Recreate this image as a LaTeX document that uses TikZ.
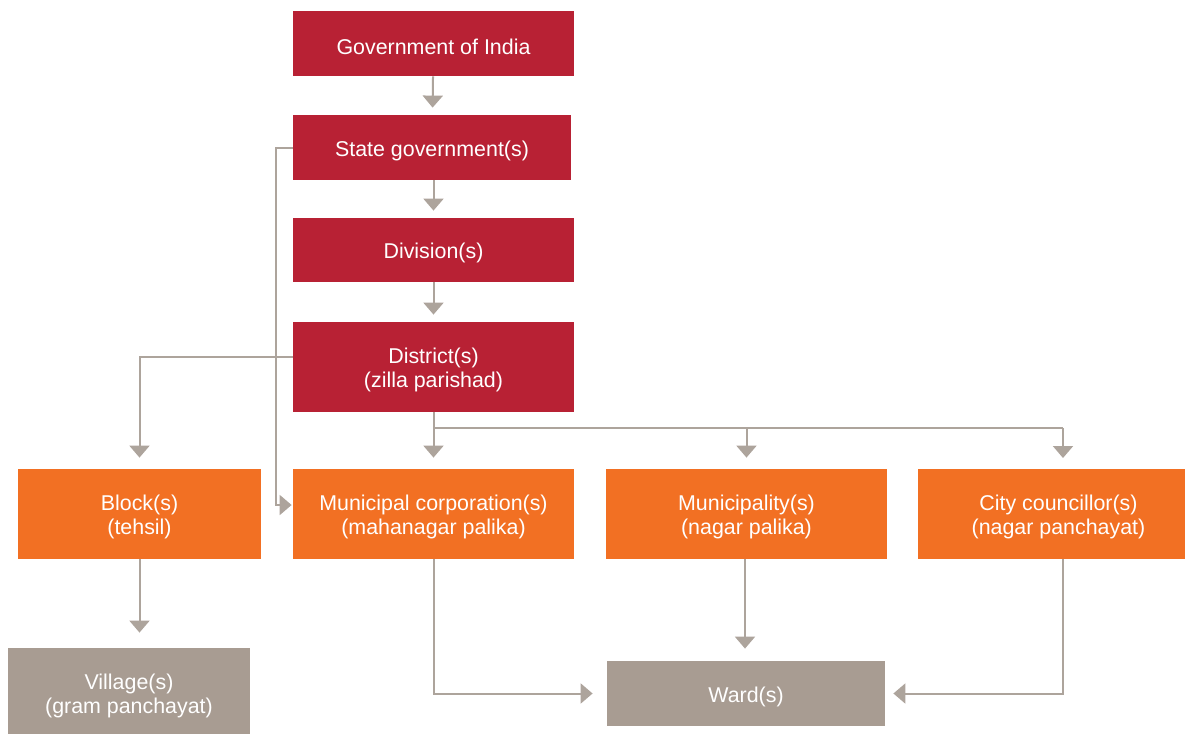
\documentclass[tikz,border=0pt]{standalone}
\usepackage{fontspec}
\setmainfont{Liberation Sans}
\usetikzlibrary{arrows.meta}
\definecolor{cred}{HTML}{B82134}
\definecolor{corange}{HTML}{F27023}
\definecolor{cgray}{HTML}{A89C92}
\definecolor{cline}{HTML}{ADA49C}
\begin{document}
\begin{tikzpicture}[x=0.5pt,y=-0.5pt,
  box/.style={rectangle, inner sep=0pt, text=white, align=center,
    font=\fontsize{10.7}{12}\selectfont},
  txt/.style={inner sep=0pt, text=white, align=center, yshift=-1.5pt,
    font=\fontsize{10.7}{12}\selectfont},
  redbox/.style={box, fill=cred},
  orangebox/.style={box, fill=corange},
  graybox/.style={box, fill=cgray},
  conn/.style={draw=cline, line width=1pt, -{Triangle[width=10pt,length=6pt]}}]
\clip (0,0) rectangle (1185,734);
\fill[white] (0,0) rectangle (1185,734);
% red column
\node[redbox, minimum width=140.5pt, minimum height=32.5pt, label={[txt]center:Government of India}] (gov) at (433.5,43.5) {};
\node[redbox, minimum width=139pt, minimum height=32.5pt, label={[txt]center:State government(s)}] (state) at (432,147.5) {};
\node[redbox, minimum width=140.5pt, minimum height=32pt, label={[txt]center:Division(s)}] (div) at (433.5,250) {};
\node[redbox, minimum width=140.5pt, minimum height=45pt, label={[txt]center:District(s)\\(zilla parishad)}] (dist) at (433.5,367) {};
% orange row
\node[orangebox, minimum width=121.5pt, minimum height=45pt, label={[txt]center:Block(s)\\(tehsil)}] (block) at (139.5,514) {};
\node[orangebox, minimum width=140.5pt, minimum height=45pt, label={[txt]center:Municipal corporation(s)\\(mahanagar palika)}] (mcorp) at (433.5,514) {};
\node[orangebox, minimum width=140.5pt, minimum height=45pt, label={[txt]center:Municipality(s)\\(nagar palika)}] (muni) at (746.5,514) {};
\node[orangebox, minimum width=140.5pt, minimum height=45pt, label={[txt]center:City councillor(s)\\(nagar panchayat)}] (city) at (1058.5,514) {};
% gray row
\node[graybox, minimum width=121pt, minimum height=45pt, label={[txt]center:Village(s)\\(gram panchayat)}] (village) at (129,693) {};
\node[graybox, minimum width=139pt, minimum height=32.5pt, label={[txt]center:Ward(s)}] (ward) at (746,693.5) {};
% connectors
\draw[conn, shorten >=3.5pt] (gov) -- (state);
\draw[conn, shorten >=3.5pt] ([xshift=0.75pt]state.south) -- ([xshift=0.75pt]state.south |- div.north);
\draw[conn, shorten >=3.5pt] (div) -- (dist);
\draw[conn, shorten >=0.5pt] (state.west) -- ++(-17,0) |- ([yshift=4.5pt]mcorp.west);
\draw[conn, shorten >=5.5pt] ([yshift=5pt]dist.west) -| (block.north);
\draw[conn, shorten >=5.5pt] (dist.south) -- (mcorp.north);
\coordinate (bus) at (433.5,428);
\draw[draw=cline, line width=1pt] (bus) -- (1063,428);
\draw[conn, shorten >=5.5pt] (bus -| muni.north) -- (muni.north);
\coordinate (citytop) at (1063,469);
\draw[conn, shorten >=5.5pt] (1063,428) -- (citytop);
\draw[conn, shorten >=7.5pt] (block.south) -- (block.south |- village.north);
\draw[conn, shorten >=7pt] (mcorp.south) |- (ward.west);
\draw[conn, shorten >=6pt] ([xshift=-0.75pt]muni.south) -- ([xshift=-0.75pt]muni.south |- ward.north);
\coordinate (citybot) at (1063,559);
\draw[conn, shorten >=4pt] (citybot) |- (ward.east);
\end{tikzpicture}
\end{document}
